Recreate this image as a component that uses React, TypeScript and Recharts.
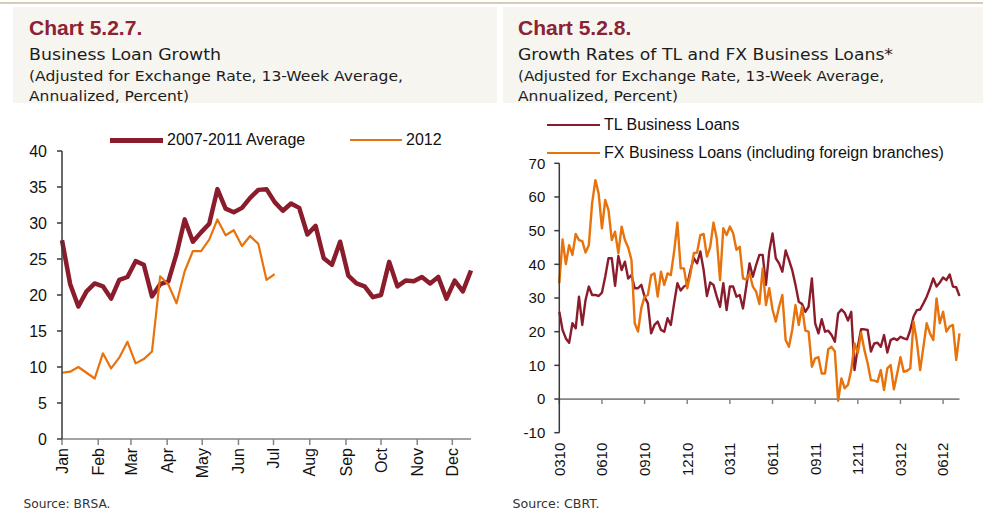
import { LineChart, Line, XAxis, YAxis, ReferenceLine } from 'recharts';

// ---------------------------------------------------------------------------
// Chart 5.2.7 — weekly business loan growth, average 2007-2011 vs 2012
// ---------------------------------------------------------------------------
const months = ['Jan', 'Feb', 'Mar', 'Apr', 'May', 'Jun', 'Jul', 'Aug', 'Sep', 'Oct', 'Nov', 'Dec'];
const monthStartDays = [0, 31, 59, 90, 120, 151, 181, 212, 243, 273, 304, 334];
const leftTicks = [0, 5, 10, 15, 20, 25, 30, 35, 40];
const leftSeriesNames = ['2007-2011 Average', '2012'];

const avg0711 = [
  27.6, 21.5, 18.4, 20.5, 21.6, 21.2, 19.5, 22.1, 22.5, 24.7,
  24.2, 19.8, 21.5, 21.9, 25.7, 30.5, 27.4, 28.7, 29.9, 34.7,
  32.0, 31.5, 32.1, 33.5, 34.6, 34.7, 32.9, 31.7, 32.7, 32.1,
  28.4, 29.6, 25.1, 24.2, 27.4, 22.7, 21.6, 21.2, 19.7, 20.0,
  24.6, 21.2, 22.0, 21.9, 22.5, 21.6, 22.5, 19.5, 22.0, 20.5,
  23.4,
];
const growth2012 = [
  9.2, 9.35, 10.0, 9.2, 8.4, 11.9, 9.8, 11.3, 13.5, 10.5,
  11.1, 12.15, 22.6, 21.45, 18.85, 23.3, 26.1, 26.1, 27.7, 30.5,
  28.3, 29.0, 26.8, 28.2, 27.1, 22.1, 22.9,
];

// ---------------------------------------------------------------------------
// Chart 5.2.8 — TL vs FX business loans, weekly from 03/2010
// ---------------------------------------------------------------------------
const quarterLabels = ['0310', '0610', '0910', '1210', '0311', '0611', '0911', '1211', '0312', '0612'];
const quarterWeeks = [0, 13, 26, 39, 52, 65, 78, 91, 104, 117];
const rightTicks = [-10, 0, 10, 20, 30, 40, 50, 60, 70];
const rightSeriesNames = ['TL Business Loans', 'FX Business Loans (including foreign branches)'];

const tlLoans = [
  25.9, 20.5, 18, 16.7, 22.5, 21, 30.4, 22, 29.4, 33.4,
  30.9, 30.9, 30.6, 31.6, 36.3, 41.8, 41.8, 33.6, 42.5, 38.3,
  40.8, 35.8, 36.8, 32.9, 32.9, 33.9, 30.4, 28.4, 19.5, 22,
  23, 20.5, 20, 24, 22, 28.4, 34.4, 32.2, 33.4, 33.9,
  38.3, 41.8, 40.3, 43.8, 38.3, 30.6, 34.6, 33.9, 30.4, 27.4,
  34.4, 26.4, 33.4, 33.4, 30.4, 30.9, 26.9, 33.4, 40.3, 36.3,
  39.8, 42.8, 42.8, 33.9, 43.8, 49.2, 41.8, 40.3, 37.8, 44.1,
  41.3, 38.3, 33.9, 28.9, 28.2, 25.9, 27.4, 35.8, 22.5, 19.5,
  23.7, 20, 20.3, 19, 17, 25.4, 26.6, 25.6, 23.3, 25.9,
  8.6, 15.5, 20.7, 20.7, 20.5, 14.1, 16.5, 16.7, 15.5, 19,
  13.8, 17.5, 18, 17.5, 18.5, 18, 17.7, 20.5, 24.5, 26.4,
  26.6, 28.4, 30.4, 32.9, 35.8, 33.4, 34.6, 36.1, 35.3, 37,
  33.4, 33.2, 30.6,
];
const fxLoans = [
  34.4, 47.4, 40.1, 45.7, 42.8, 49, 47.2, 46.9, 43.5, 45.7,
  58.1, 65, 61, 50.7, 59.1, 56.1, 47.2, 49.7, 43.3, 51.2,
  47.2, 45, 41.3, 22.5, 20, 27, 30.4, 30.9, 36.8, 37.3,
  30.4, 37.8, 33.9, 37.3, 36.8, 43.8, 52.4, 38.8, 38.8, 32.9,
  37.3, 43.3, 43.5, 48.7, 49, 42.3, 45.2, 52.4, 47.7, 35.3,
  50.7, 48.7, 51.2, 49.2, 44.3, 45.2, 35.8, 35.5, 37.3, 33.4,
  31.9, 28.2, 38.8, 27.9, 32.9, 26.6, 23, 27.4, 30.9, 17.5,
  15.5, 20.5, 27.9, 22, 27.4, 20.3, 20, 9.6, 12.1, 12.4,
  7.6, 7.6, 14.8, 15.5, 14.1, -0.5, 6.1, 3.2, 4.2, 8.6,
  16.5, 13.6, 19.7, 14.6, 10.6, 5.6, 5.5, 5.1, 8.6, 2.7,
  9.1, 10.1, 2.9, 7.6, 12.4, 8.1, 8.4, 9.1, 23, 17,
  8.6, 15.5, 22.5, 19.5, 17.5, 29.9, 22.5, 25.9, 20, 21.5,
  22, 11.6, 19.5,
];

const DARK = '#8B1C2C';
const ORANGE = '#E8720C';
const TITLE = '#8C2233';
const BEIGE = '#F6F5F0';
const AXIS_DARK = '#3a3a3a';
const AXIS_GREY = '#858585';
const ARIAL = '"Liberation Sans", Arial, sans-serif';
const GOTHIC = '"DejaVu Sans", sans-serif';

function RotatedTick({ x, y, payload, fontSize, format }: any) {
  return (
    <text
      x={x}
      y={y}
      dy="0.36em"
      transform={`rotate(-90, ${x}, ${y})`}
      textAnchor="end"
      fontSize={fontSize}
      fontFamily={ARIAL}
      fill="#111"
    >
      {format(payload.value)}
    </text>
  );
}

function Header({ left, title, subtitle, subWidth, line3Width }: {
  left: number; title: string; subtitle: string; subWidth: number; line3Width: number;
}) {
  const x = left + 16;
  return (
    <svg width={983} height={110} style={{ position: 'absolute', left: 0, top: 0 }}>
      <text x={x} y={34.5} fontFamily={ARIAL} fontWeight="bold" fontSize={21} fill={TITLE}>{title}</text>
      <text x={x} y={60} fontFamily={GOTHIC} fontSize={16.5} fill="#1c1c1c" textLength={subWidth} lengthAdjust="spacingAndGlyphs">{subtitle}</text>
      <text x={x} y={81} fontFamily={GOTHIC} fontSize={14.5} fill="#1c1c1c" textLength={line3Width} lengthAdjust="spacingAndGlyphs">(Adjusted for Exchange Rate, 13-Week Average,</text>
      <text x={x} y={100.5} fontFamily={GOTHIC} fontSize={14.5} fill="#1c1c1c" textLength={160} lengthAdjust="spacingAndGlyphs">Annualized, Percent)</text>
    </svg>
  );
}

function LeftChart() {
  const data = avg0711.map((v, i) => ({
    day: i * 7,
    avg: v,
    y2012: i < growth2012.length ? growth2012[i] : null,
  }));
  return (
    <div style={{ position: 'absolute', left: 0, top: 0, width: 490, height: 515 }}>
      <LineChart width={490} height={515} data={data} margin={{ top: 151, right: 19, bottom: 16, left: 22 }}>
        <XAxis
          type="number"
          dataKey="day"
          domain={[0, 350]}
          ticks={monthStartDays}
          interval={0}
          height={60}
          tickSize={6}
          tickMargin={3}
          axisLine={{ stroke: AXIS_GREY, strokeWidth: 1.5 }}
          tickLine={{ stroke: AXIS_GREY, strokeWidth: 1.5 }}
          tick={<RotatedTick fontSize={16} format={(v: number) => months[monthStartDays.indexOf(v)]} />}
        />
        <YAxis
          type="number"
          domain={[0, 40]}
          ticks={leftTicks}
          interval={0}
          width={40}
          tickSize={5}
          tickMargin={10}
          axisLine={{ stroke: AXIS_DARK, strokeWidth: 1.5 }}
          tickLine={{ stroke: AXIS_DARK, strokeWidth: 1.5 }}
          tick={{ fontSize: 16, fontFamily: ARIAL, fill: '#111' }}
        />
        <Line type="linear" dataKey="avg" stroke={DARK} strokeWidth={4.5} dot={false} isAnimationActive={false} strokeLinejoin="round" />
        <Line type="linear" dataKey="y2012" stroke={ORANGE} strokeWidth={2.2} dot={false} isAnimationActive={false} strokeLinejoin="round" />
      </LineChart>
      {/* legend */}
      <div style={{ position: 'absolute', left: 110, top: 140, width: 53, height: 5, marginTop: -2.5, background: DARK }} />
      <div style={{ position: 'absolute', left: 167, top: 131, font: `16px ${ARIAL}`, color: '#111', lineHeight: '18px', whiteSpace: 'nowrap' }}>{leftSeriesNames[0]}</div>
      <div style={{ position: 'absolute', left: 350, top: 139, width: 52, height: 2.2, background: ORANGE }} />
      <div style={{ position: 'absolute', left: 406, top: 131, font: `16px ${ARIAL}`, color: '#111', lineHeight: '18px', whiteSpace: 'nowrap' }}>{leftSeriesNames[1]}</div>
    </div>
  );
}

function RightChart() {
  const data = tlLoans.map((v, i) => ({ week: i, tl: v, fx: fxLoans[i] }));
  return (
    <div style={{ position: 'absolute', left: 490, top: 0, width: 493, height: 515 }}>
      <LineChart width={493} height={515} data={data} margin={{ top: 163.3, right: 23.5, bottom: 22.3, left: 24.3 }}>
        <XAxis
          type="number"
          dataKey="week"
          domain={[0, 122]}
          ticks={quarterWeeks}
          interval={0}
          height={60}
          tickSize={0}
          tickMargin={10}
          axisLine={false}
          tickLine={false}
          tick={<RotatedTick fontSize={15} format={(v: number) => quarterLabels[quarterWeeks.indexOf(v)]} />}
        />
        <YAxis
          type="number"
          domain={[-10, 70]}
          ticks={rightTicks}
          interval={0}
          width={45}
          tickSize={5}
          tickMargin={9}
          axisLine={{ stroke: AXIS_DARK, strokeWidth: 1.5 }}
          tickLine={{ stroke: AXIS_DARK, strokeWidth: 1.5 }}
          tick={{ fontSize: 15, fontFamily: ARIAL, fill: '#111' }}
        />
        <ReferenceLine y={0} stroke={AXIS_GREY} strokeWidth={1.8} />
        {quarterWeeks.map((w) => (
          <ReferenceLine key={w} segment={[{ x: w, y: 0 }, { x: w, y: -1.5 }]} stroke={AXIS_GREY} strokeWidth={1.5} />
        ))}
        <Line type="linear" dataKey="tl" stroke={DARK} strokeWidth={2.4} dot={false} isAnimationActive={false} strokeLinejoin="round" />
        <Line type="linear" dataKey="fx" stroke={ORANGE} strokeWidth={2.4} dot={false} isAnimationActive={false} strokeLinejoin="round" />
      </LineChart>
      {/* legend */}
      <div style={{ position: 'absolute', left: 57, top: 124, width: 53, height: 2.4, background: DARK }} />
      <div style={{ position: 'absolute', left: 114, top: 116, font: `16px ${ARIAL}`, color: '#111', lineHeight: '18px', whiteSpace: 'nowrap' }}>{rightSeriesNames[0]}</div>
      <div style={{ position: 'absolute', left: 57, top: 151.5, width: 53, height: 2.4, background: ORANGE }} />
      <div style={{ position: 'absolute', left: 114, top: 143.5, font: `16px ${ARIAL}`, color: '#111', lineHeight: '18px', whiteSpace: 'nowrap' }}>{rightSeriesNames[1]}</div>
    </div>
  );
}

export default function App() {
  return (
    <div style={{ position: 'absolute', left: 0, top: 0, width: 983, height: 515, background: '#fff', overflow: 'hidden' }}>
      <div style={{ position: 'absolute', left: 0, top: 2, width: 983, height: 1.5, background: '#D8CCB2' }} />
      <div style={{ position: 'absolute', left: 13, top: 7, width: 484, height: 96, background: BEIGE }} />
      <div style={{ position: 'absolute', left: 503, top: 7, width: 480, height: 96, background: BEIGE }} />
      <Header left={13} title="Chart 5.2.7." subtitle="Business Loan Growth" subWidth={192} line3Width={374} />
      <Header left={502} title="Chart 5.2.8." subtitle="Growth Rates of TL and FX Business Loans*" subWidth={375} line3Width={366} />
      <LeftChart />
      <RightChart />
      <svg width={983} height={515} style={{ position: 'absolute', left: 0, top: 0, pointerEvents: 'none' }}>
        <text x={23.5} y={508} fontFamily={GOTHIC} fontSize={12} fill="#333" textLength={87} lengthAdjust="spacingAndGlyphs">Source: BRSA.</text>
        <text x={512.5} y={508} fontFamily={GOTHIC} fontSize={12} fill="#333" textLength={87} lengthAdjust="spacingAndGlyphs">Source: CBRT.</text>
      </svg>
    </div>
  );
}
